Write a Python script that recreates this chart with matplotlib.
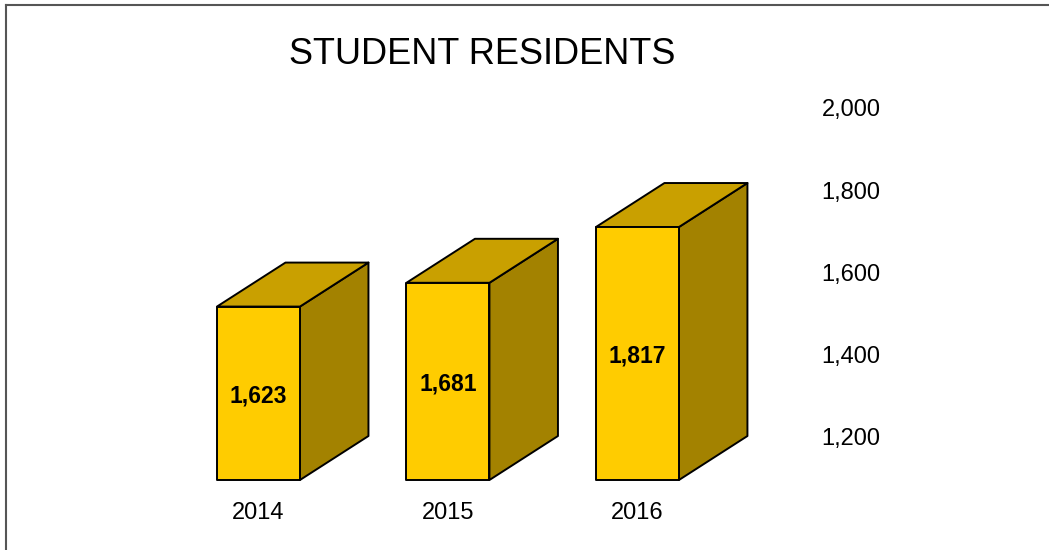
import matplotlib.pyplot as plt
from matplotlib.patches import Polygon
from matplotlib.lines import Line2D

plt.rcParams['font.family'] = ['Liberation Sans', 'DejaVu Sans']

# данные
years = ['2014', '2015', '2016']
residents = [1623, 1681, 1817]
tick_values = [1200, 1400, 1600, 1800, 2000]
tick_labels = ['1,200', '1,400', '1,600', '1,800', '2,000']

# псевдо-3D параметры (в единицах осей)
floor = 1200        # пол задней плоскости
half_w = 0.219      # половина ширины передней грани
depth_x = 0.3615    # смещение глубины по x
depth_y = 107.3     # смещение глубины по y

c_front = '#FFCC00'
c_top = '#C9A000'
c_side = '#A38200'

fig = plt.figure(figsize=(10.49, 5.5), dpi=100)
ax = fig.add_axes([0, 0, 1, 1])
ax.set_xlim(-1.364, 4.172)
ax.set_ylim(922, 2263.4)
ax.axis('off')

for i, (year, v) in enumerate(zip(years, residents)):
    x0, x1 = i - half_w, i + half_w
    yb = floor - depth_y
    yt = v - depth_y
    front = [(x0, yb), (x1, yb), (x1, yt), (x0, yt)]
    top = [(x0, yt), (x1, yt), (x1 + depth_x, v), (x0 + depth_x, v)]
    side = [(x1, yb), (x1 + depth_x, floor), (x1 + depth_x, v), (x1, yt)]
    for pts, col in [(side, c_side), (top, c_top), (front, c_front)]:
        ax.add_patch(Polygon(pts, closed=True, facecolor=col, edgecolor='black',
                             linewidth=1.4, joinstyle='round'))
    ax.text(i, (yb + yt) / 2, f'{v:,}', ha='center', va='center_baseline',
            fontsize=16.5, fontweight='bold')
    ax.text(i, 1019.5, year, ha='center', va='center_baseline', fontsize=17)

# подписи шкалы справа
for t, lab in zip(tick_values, tick_labels):
    ax.text(3.127, t, lab, ha='center', va='center_baseline', fontsize=17)

fig.text(482.5 / 1049, 1 - 50 / 550, 'STUDENT RESIDENTS', ha='center',
         va='center_baseline', fontsize=26)

# рамка
fig.add_artist(Line2D([5.5 / 1049] * 2, [0, 1 - 4.5 / 550], transform=fig.transFigure,
                      color='#555555', linewidth=1.5))
fig.add_artist(Line2D([5.5 / 1049, 1], [1 - 4.5 / 550] * 2, transform=fig.transFigure,
                      color='#555555', linewidth=1.5))

fig.savefig('out.png', dpi=100)
